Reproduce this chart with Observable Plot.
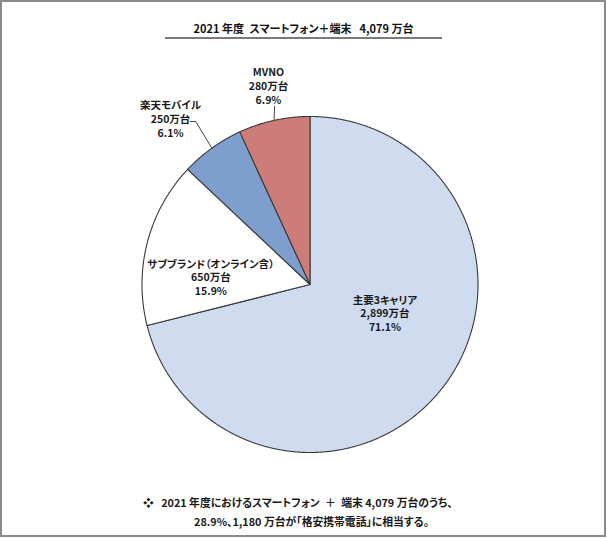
<!DOCTYPE html>
<html><head><meta charset="utf-8">
<script src="https://cdn.jsdelivr.net/npm/d3@7"></script>
<script src="https://cdn.jsdelivr.net/npm/@observablehq/plot@0.6"></script>
<style>
html,body{margin:0;padding:0;background:#fff;}
#wrap{position:relative;width:607px;height:538px;overflow:hidden;font-family:"Noto Sans CJK JP",sans-serif;font-feature-settings:"palt";}
#frame{position:absolute;left:0;top:0;width:602px;height:533px;border:2px solid #8a8a8a;}
#title{position:absolute;left:165px;width:277px;top:20px;height:17px;text-align:center;font-size:11px;font-weight:bold;line-height:17px;border-bottom:2px solid #7a7a7a;color:#111;}
#foot{position:absolute;left:0;width:607px;top:493px;font-size:10.8px;font-weight:bold;color:#1a1a1a;line-height:19px;}
#f1{position:absolute;left:143px;top:0;white-space:pre;}
#f2{position:absolute;left:0;width:607px;top:19px;padding-left:16px;box-sizing:border-box;text-align:center;}
#chart{position:absolute;left:0;top:0;}
</style></head>
<body><div id="wrap"><div id="chart"></div><div id="frame"></div>
<div id="title"></div><div id="foot"><div id="f1"></div><div id="f2"></div></div></div>
<script>
// ---- data ----
const categories = ["主要3キャリア", "サブブランド（オンライン含）", "楽天モバイル", "MVNO"];
const unitsMan = [2899, 650, 250, 280];           // 万台
const sharePct = ["71.1%", "15.9%", "6.1%", "6.9%"];
const unitLabels = ["2,899万台", "650万台", "250万台", "280万台"];
const titleText = "2021 年度\u2002スマートフォン＋端末\u2002 4,079 万台";
const footLine1 = "❖   2021 年度におけるスマートフォン\u2002＋\u2002端末 4,079 万台のうち、";
const footLine2 = "28.9%、1,180 万台が「格安携帯電話」に相当する。";

// ---- styles / layout ----
const sliceColors = ["#cfdbee", "#ffffff", "#7e9ece", "#cd7c79"];
// label block centres in unit-radius coordinates
const labelPos = [[0.446, -0.17], [-0.59, 0.045], [-0.83, 0.986], [-0.247, 1.185]];
// leader elbows (unit coordinates) for small slices
const leaderElbows = {2: [[-0.68, 0.97], [-0.712, 0.97]], 3: [[-0.211, 1.06]]};

document.getElementById("title").textContent = titleText;
document.getElementById("f1").textContent = footLine1;
document.getElementById("f2").textContent = footLine2;

const rows = categories.map((c, i) => ({name: c, value: unitsMan[i], i}));
const arcs = d3.pie().sort(null).value(d => d.value)(rows);

const polyPts = [];
arcs.forEach(a => {
  const name = a.data.name;
  polyPts.push({name, x: 0, y: 0});
  const n = Math.max(2, Math.ceil((a.endAngle - a.startAngle) / 0.005));
  for (let k = 0; k <= n; k++) {
    const t = a.startAngle + (a.endAngle - a.startAngle) * k / n;
    polyPts.push({name, x: Math.sin(t), y: Math.cos(t)});
  }
});

const leaderPts = [];
Object.entries(leaderElbows).forEach(([idx, elbows]) => {
  const a = arcs[+idx];
  const m = (a.startAngle + a.endAngle) / 2;
  leaderPts.push({k: idx, x: Math.sin(m), y: Math.cos(m)});
  elbows.forEach(([x, y]) => leaderPts.push({k: idx, x, y}));
});

const labels = rows.map((r, i) => ({
  x: labelPos[i][0], y: labelPos[i][1],
  text: `${r.name}\n${unitLabels[i]}\n${sharePct[i]}`
}));

const plot = Plot.plot({
  width: 607, height: 538,
  margin: 0,
  x: {domain: [-1, 1], range: [141.5, 477.5], axis: null},
  y: {domain: [-1, 1], range: [452, 116], axis: null},
  color: {domain: categories, range: sliceColors},
  style: {fontFamily: "'Noto Sans CJK JP', sans-serif", background: "transparent"},
  marks: [
    Plot.line(polyPts, {x: "x", y: "y", z: "name", fill: "name", stroke: "#3a3a3a", strokeWidth: 1.1, curve: "linear-closed"}),
    Plot.line(leaderPts, {x: "x", y: "y", z: "k", stroke: "#444", strokeWidth: 1}),
    Plot.text(labels, {x: "x", y: "y", text: "text", fontSize: 10.5, fontWeight: "bold", lineHeight: 1.32, fill: "#1a1a1a"})
  ]
});
plot.querySelectorAll("text").forEach(t => t.style.fontFeatureSettings = '"palt"');
document.getElementById("chart").appendChild(plot);
</script></body></html>
